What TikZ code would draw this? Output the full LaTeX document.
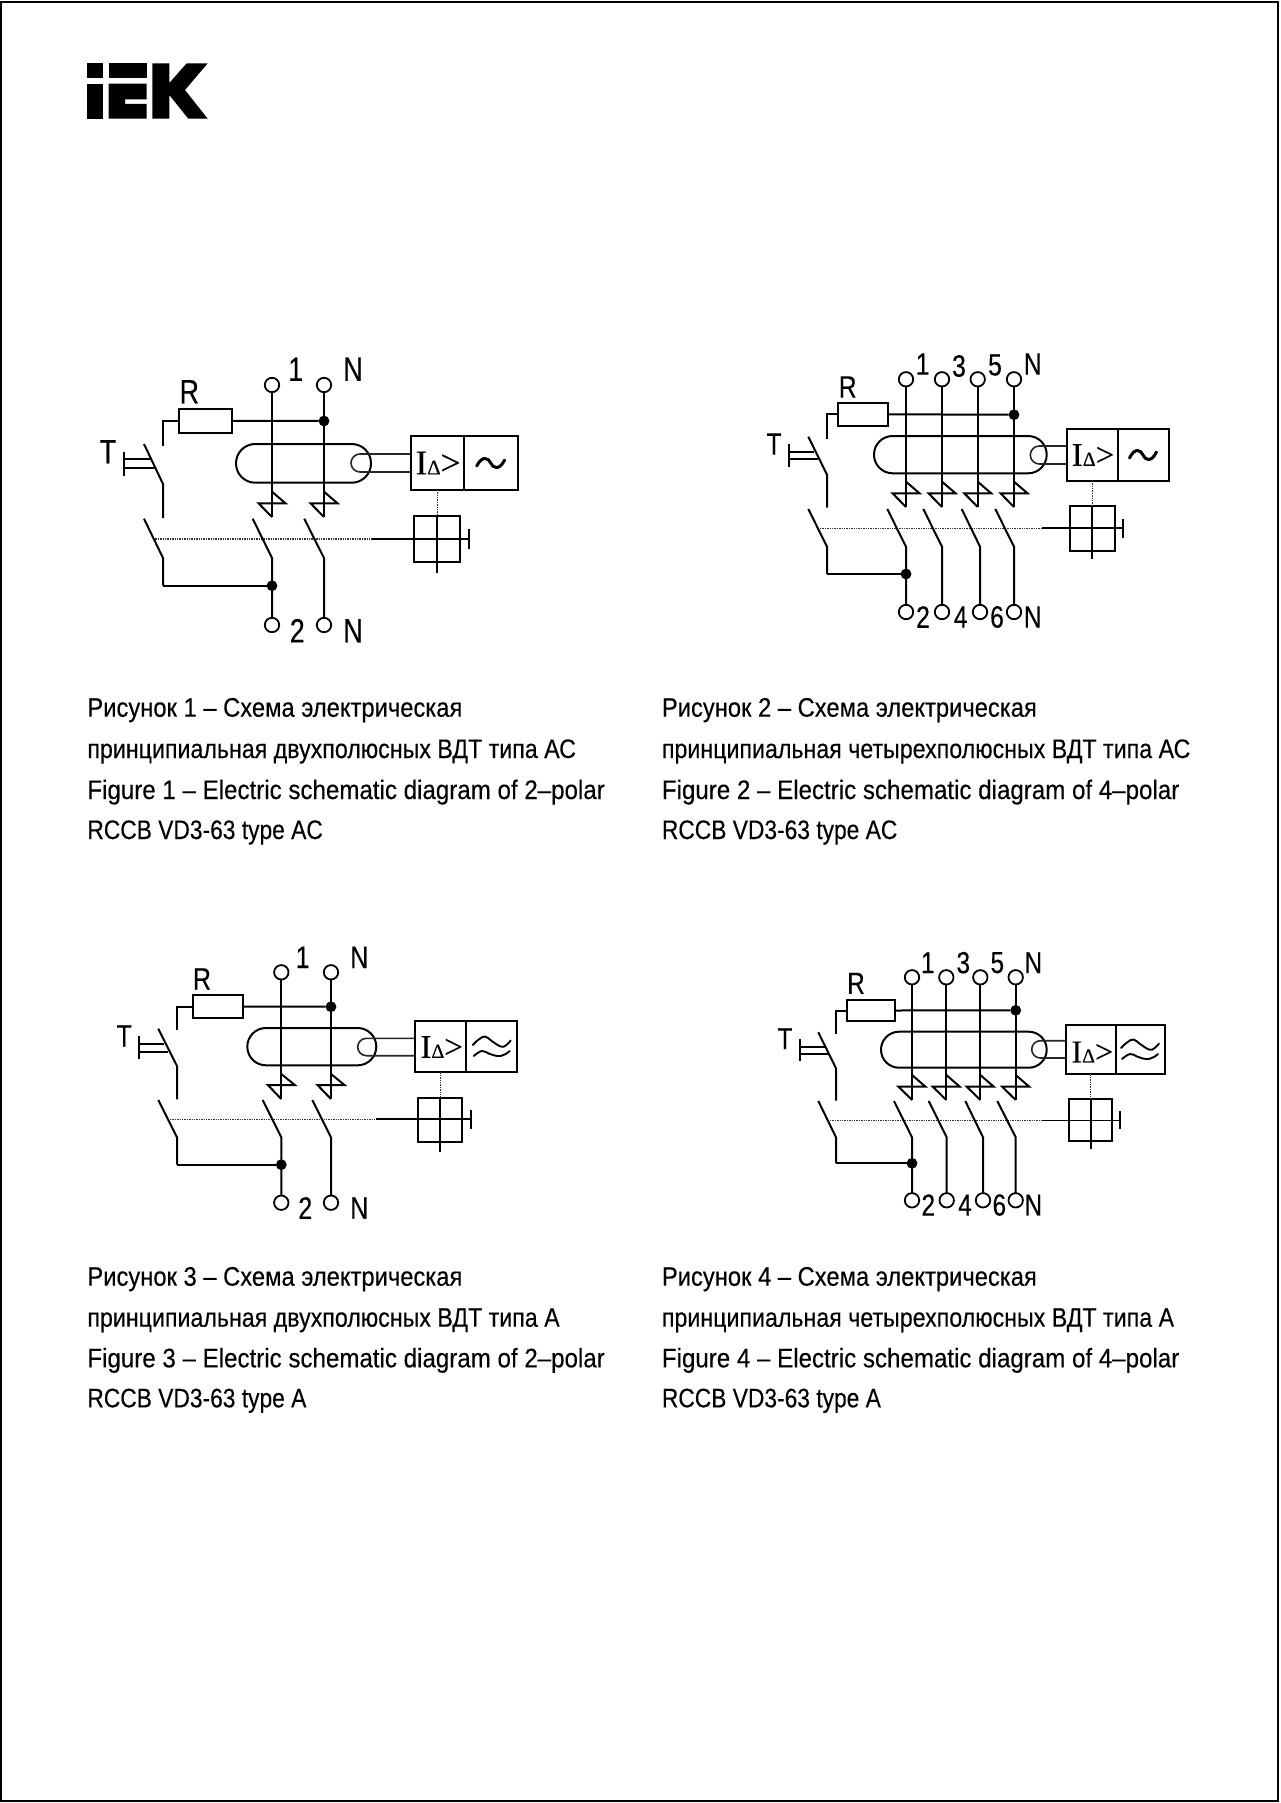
\documentclass[tikz,border=0pt]{standalone}
\usepackage{fontspec}
\setmainfont{Liberation Sans}
\newfontfamily\lblfont[FakeStretch=0.8,FakeBold=0.25]{Liberation Sans}
\newfontfamily\capfont[FakeStretch=0.9,FakeBold=0.25]{Liberation Sans}
\newfontfamily\capfa[FakeStretch=0.886,FakeBold=0.25]{Liberation Sans}
\newfontfamily\capfb[FakeStretch=0.866,FakeBold=0.25]{Liberation Sans}
\newfontfamily\capfd[FakeStretch=0.85,FakeBold=0.25]{Liberation Sans}
\newfontfamily\serI[FakeBold=0.2]{Liberation Serif}
\tikzset{
  x=0.5pt,y=-0.5pt,
  wire/.style={line width=1pt,line cap=butt,line join=miter,black},
  thinw/.style={line width=0.8pt,black!85},
  dotln/.style={line width=0.6pt,black!80,dash pattern=on 0.7pt off 0.5pt},
  term/.style={circle,draw,line width=0.9pt,minimum size=7.2pt,inner sep=0pt,outer sep=0pt},
  junc/.style={circle,fill=black,minimum size=5.4pt,inner sep=0pt,outer sep=0pt},
  boxr/.style={rectangle,draw,line width=1.1pt,inner sep=0pt,outer sep=0pt,anchor=north west},
  lbl/.style={inner sep=0pt,font=\lblfont\fontsize{\lSize}{\lSize}\selectfont},
  captxt/.style={inner sep=0pt,anchor=base west,font=\capfont\fontsize{13.4pt}{14pt}\selectfont},
  capa/.style={captxt,font=\capfa\fontsize{13.4pt}{14pt}\selectfont},
  capb/.style={captxt,font=\capfb\fontsize{13.4pt}{14pt}\selectfont},
  capd/.style={captxt,font=\capfd\fontsize{13.4pt}{14pt}\selectfont},
}
\newcommand{\PoleAt}[4]{%
  \node[term] (#1t) at (#2,\yTop) {};
  \node[term] (#1b) at (#3,\yBot) {};
  \coordinate (#1la) at (#2,\latA);
  \coordinate (#1lr) at (#2+13.5,\latB);
  \coordinate (#1ll) at (#2-13.5,\latB);
  \coordinate (#1lc) at (#2,\latC);
  \coordinate (#1cs) at (#4,\yCa);
  \coordinate (#1ck) at (#3,\yCb);
  \draw[wire] (#1t.south) -- (#1lc);
  \draw[wire,line join=miter] (#1la) -- (#1lr) -- (#1ll) -- (#1lc);
  \draw[wire] (#1cs) -- (#1ck) -- (#1b.north);
}
\newcommand{\CommonParts}[1]{%
  % resistor and its wire
  \node[boxr,minimum width={(\rR-\rL)*0.5pt},minimum height={(\rB-\rT)*0.5pt}] (#1res) at (\rL,\rT) {};
  \coordinate (#1rw) at (\xW,\wB);
  \draw[wire] (#1rw) |- (#1res.west);
  % sensing loop
  \draw[wire,rounded corners=\loopR] (\lL,\lT) rectangle (\lR,\lB);
  % relay box
  \node[boxr,minimum width={(\bD-\bL)*0.5pt},minimum height={(\bB-\bT)*0.5pt}] (#1bxa) at (\bL,\bT) {};
  \node[boxr,minimum width={(\bR-\bD)*0.5pt},minimum height={(\bB-\bT)*0.5pt}] (#1bxb) at (\bD,\bT) {};
  % secondary coil
  \pgfmathsetmacro{\lm}{(\sA+\sB)/2}
  \pgfmathsetmacro{\lrad}{(\sB-\sA)/2}
  \coordinate (#1sa) at (\bL,\sA);
  \coordinate (#1sb) at (\bL,\sB);
  \draw[thinw] (#1sa) -- (\sX+\lrad,\sA)
     .. controls (\sX+0.45*\lrad,\sA) and (\sX,\lm-0.55*\lrad) .. (\sX,\lm)
     .. controls (\sX,\lm+0.55*\lrad) and (\sX+0.45*\lrad,\sB) .. (\sX+\lrad,\sB) -- (#1sb);
  % trip block
  \node[boxr,minimum width={(\qR-\qL)*0.5pt},minimum height={(\qB-\qT)*0.5pt}] (#1sq) at (\qL,\qT) {};
  \coordinate (#1vb) at (#1sq.north |- 0,\vB);
  \coordinate (#1hl) at (\dL,\yH);
  \coordinate (#1hm) at (\dR,\yH);
  \coordinate (#1he) at (\hR,\yH);
  \coordinate (#1ht) at (\hR,\tT);
  \coordinate (#1hb) at (\hR,\tB);
  \draw[dotln] (#1sq.north |- #1bxa.south) -- (#1sq.north);
  \draw[line width=0.85pt] (#1sq.north) -- (#1vb);
  \draw[dotln] (#1hl) -- (#1hm);
  \draw[line width=0.85pt] (#1hm) -- (#1he);
  \draw[line width=1pt] (#1ht) -- (#1hb);
  % test button
  \coordinate (#1ka) at (\kX,\kT);
  \coordinate (#1kb) at (\xW,\kM);
  \coordinate (#1kc) at (\xW,\kB);
  \draw[wire] (#1ka) -- (#1kb) -- (#1kc);
  \draw[wire] (\pX,\pT) -- (\pX,\pB);
  \draw[wire,line width=0.85pt] (\pX,\hA) -- (\hAx,\hA);
  \draw[wire,line width=0.85pt] (\pX,\hB) -- (\hBx,\hB);
  % lower left contact
  \coordinate (#1ma) at (\kX,\yCa);
  \coordinate (#1mb) at (\xW,\yCb);
  \coordinate (#1mc) at (\xW,\yLow);
  \draw[wire] (#1ma) -- (#1mb) -- (#1mc);
  % text in box
  \node[inner sep=0pt] (#1ilab) at (\iX,\iY) {\serI\fontsize{\iSize}{\iSize}\selectfont I{\fontsize{\dSize}{\dSize}\selectfont Δ}>};
}
\newcommand{\TildeAt}[3]{%
  \begin{scope}[shift={(#1,#2)}]
    \draw[line width=1.5pt,line cap=round] (-#3,3)
      .. controls (-0.6*#3,-8) and (-0.15*#3,-5) .. (0,0)
      .. controls (0.15*#3,5) and (0.6*#3,8) .. (#3,-3);
  \end{scope}
}
\newcommand{\DoubleWaveAt}[2]{%
  \begin{scope}[shift={(#1,#2)}]
    \draw[line width=0.95pt,line cap=round] plot[smooth,tension=0.7] coordinates {(-19,-2) (-13,-7.5) (-6.5,-10.5) (0,-6) (9,-0.5) (14,-1.5) (19,-6.5)};
    \draw[line width=0.95pt,line cap=round] plot[smooth,tension=0.7] coordinates {(-18,9) (-10,4) (-3,6.5) (3,8.5) (9,9) (14,7) (18,4)};
  \end{scope}
}
\begin{document}
\begin{tikzpicture}
\useasboundingbox (0,0) rectangle (1280,1803);
\fill[white] (0,0) rectangle (1280,1803);
\draw[line width=1.25pt] (1.2,2) rectangle (1278,1801);

% logo
\fill (87.3,63.3) rectangle (103.3,77.7);
\fill (87.3,83.7) rectangle (103.3,118.7);
\fill (108.7,63.3) rectangle (146.7,77.7);
\fill (108.7,83.7) -- (146.7,83.7) -- (146.7,99.3) -- (125,99.3) -- (125,104) -- (146.7,104) -- (146.7,118.7) -- (108.7,118.7) -- cycle;
\fill (152.3,63.3) -- (169.3,63.3) -- (169.3,83) -- (186.7,63.3) -- (207.7,63.3) -- (185,90) -- (207.7,118.7) -- (188.3,118.7) -- (169.3,95) -- (169.3,118.7) -- (152.3,118.7) -- cycle;

% ---------- Diagram 1
\begin{scope}
\def\lSize{16.8pt}\def\iSize{17.5pt}\def\dSize{10.5pt}
\def\yTop{385}\def\yBot{625}\def\latA{491.7}\def\latB{503.3}\def\latC{517}
\def\yCa{518.7}\def\yCb{558}\def\yLow{585.7}
\def\rL{179.3}\def\rR{231.7}\def\rT{409}\def\rB{432.7}
\def\xW{163}\def\wB{446}
\def\lL{236}\def\lR{371}\def\lT{444}\def\lB{482.7}\def\loopR{9.6pt}
\def\bL{410.7}\def\bR{518}\def\bD{464}\def\bT{436.3}\def\bB{489.7}
\def\sX{351}\def\sA{454}\def\sB{472}
\def\qL{414.3}\def\qR{460.3}\def\qT{516}\def\qB{561.7}\def\vB{572.7}
\def\yH{539}\def\dL{153}\def\dR{371.7}\def\hR{469.3}\def\tT{529}\def\tB{549}
\def\kX{144}\def\kT{444}\def\kM{484}\def\kB{518}
\def\pX{124}\def\pT{451.7}\def\pB{476}\def\hA{459}\def\hB{467.7}\def\hAx{152}\def\hBx{155.5}
\def\iX{438}\def\iY{463}
\CommonParts{a}
\PoleAt{ap}{272}{272}{252.7}
\PoleAt{aq}{324}{324}{304.3}
\node[junc] (aj1) at (324,421) {};
\node[junc] (aj2) at (272,585.7) {};
\draw[wire] (ares.east) -- (aj1);
\draw[wire] (amc) -- (aj2);
\TildeAt{490.7}{463}{14}
\node[lbl] (al1) at (295.7,369.3) {1};
\node[lbl] (al2) at (353,369.3) {N};
\node[lbl] (al3) at (297.3,630.7) {2};
\node[lbl] (al4) at (353,630.7) {N};
\node[lbl] (alr) at (189.3,391.7) {R};
\node[lbl] (alt) at (108,451.7) {T};
\end{scope}

% ---------- Diagram 2
\begin{scope}
\def\lSize{15.4pt}\def\iSize{16.5pt}\def\dSize{10pt}
\def\yTop{379.3}\def\yBot{612}\def\latA{481.7}\def\latB{493.3}\def\latC{507}
\def\yCa{509}\def\yCb{546.7}\def\yLow{574}
\def\rL{838.3}\def\rR{888.3}\def\rT{403}\def\rB{425.7}
\def\xW{827}\def\wB{438.7}
\def\lL{874}\def\lR{1046.7}\def\lT{436}\def\lB{473.3}\def\loopR{9.3pt}
\def\bL{1066.7}\def\bR{1169.3}\def\bD{1118.3}\def\bT{429}\def\bB{480.7}
\def\sX{1030.3}\def\sA{446}\def\sB{464}
\def\qL{1069.7}\def\qR{1114.7}\def\qT{505.7}\def\qB{550.7}\def\vB{559}
\def\yH{528.3}\def\dL{820}\def\dR{1041.7}\def\hR{1123}\def\tT{519}\def\tB{537.7}
\def\kX{808.3}\def\kT{436.7}\def\kM{474.7}\def\kB{507.7}
\def\pX{789.3}\def\pT{443.7}\def\pB{467}\def\hA{451.7}\def\hB{459.3}\def\hAx{814}\def\hBx{818}
\def\iX{1093}\def\iY{455}
\CommonParts{b}
\PoleAt{bp}{906}{906}{887.3}
\PoleAt{bq}{942}{942}{923.3}
\PoleAt{br}{977.7}{980}{961.7}
\PoleAt{bs}{1014}{1014}{995.3}
\node[junc] (bj1) at (1014,414.7) {};
\node[junc] (bj2) at (906,574) {};
\draw[wire] (bres.east) -- (bj1);
\draw[wire] (bmc) -- (bj2);
\TildeAt{1143}{455}{13.5}
\node[lbl] (bl1) at (922.7,364) {1};
\node[lbl] (bl2) at (959,366) {3};
\node[lbl] (bl3) at (995,365) {5};
\node[lbl] (bl4) at (1032.7,364) {N};
\node[lbl] (bl5) at (923,617) {2};
\node[lbl] (bl6) at (960.7,617) {4};
\node[lbl] (bl7) at (997,617) {6};
\node[lbl] (bl8) at (1032.7,617) {N};
\node[lbl] (blr) at (847.7,387) {R};
\node[lbl] (blt) at (774,444) {T};
\end{scope}

% ---------- Diagram 3
\begin{scope}
\def\lSize{15.6pt}\def\iSize{16.5pt}\def\dSize{10pt}
\def\yTop{972.3}\def\yBot{1202.7}\def\latA{1074}\def\latB{1085}\def\latC{1099}
\def\yCa{1100}\def\yCb{1137.3}\def\yLow{1164.7}
\def\rL{192.7}\def\rR{242.7}\def\rT{995.3}\def\rB{1017.7}
\def\xW{177}\def\wB{1030.3}
\def\lL{247.3}\def\lR{376.3}\def\lT{1028}\def\lB{1065.3}\def\loopR{9.3pt}
\def\bL{414.7}\def\bR{517}\def\bD{465.7}\def\bT{1021.3}\def\bB{1072.3}
\def\sX{357.7}\def\sA{1038.3}\def\sB{1055.7}
\def\qL{418.3}\def\qR{462.3}\def\qT{1097.7}\def\qB{1141.7}\def\vB{1151.7}
\def\yH{1119.3}\def\dL{170}\def\dR{376}\def\hR{470.7}\def\tT{1110}\def\tB{1129}
\def\kX{158.3}\def\kT{1028.7}\def\kM{1066}\def\kB{1099.3}
\def\pX{139.3}\def\pT{1036}\def\pB{1059}\def\hA{1044}\def\hB{1052}\def\hAx{164}\def\hBx{168}
\def\iX{441.7}\def\iY{1047}
\CommonParts{c}
\PoleAt{cp}{281.3}{281.3}{262.7}
\PoleAt{cq}{331}{331}{312.3}
\node[junc] (cj1) at (331,1006.7) {};
\node[junc] (cj2) at (281.3,1164.7) {};
\draw[wire] (cres.east) -- (cj1);
\draw[wire] (cmc) -- (cj2);
\DoubleWaveAt{491.7}{1047}
\node[lbl] (cl1) at (302.7,957.3) {1};
\node[lbl] (cl2) at (359.3,957.3) {N};
\node[lbl] (cl3) at (305.3,1208) {2};
\node[lbl] (cl4) at (359.3,1208) {N};
\node[lbl] (clr) at (202,979) {R};
\node[lbl] (clt) at (124.3,1036) {T};
\end{scope}

% ---------- Diagram 4
\begin{scope}
\def\lSize{15.2pt}\def\iSize{16pt}\def\dSize{10pt}
\def\yTop{977.3}\def\yBot{1200.3}\def\latA{1075}\def\latB{1086.7}\def\latC{1100}
\def\yCa{1101}\def\yCb{1137.3}\def\yLow{1163.3}
\def\rL{847}\def\rR{895}\def\rT{999.7}\def\rB{1021.3}
\def\xW{836}\def\wB{1033.7}
\def\lL{881}\def\lR{1046.7}\def\lT{1031.7}\def\lB{1067.7}\def\loopR{9pt}
\def\bL{1066}\def\bR{1165}\def\bD{1115.7}\def\bT{1025}\def\bB{1074.3}
\def\sX{1031.7}\def\sA{1040.7}\def\sB{1058}
\def\qL{1069.3}\def\qR{1112}\def\qT{1099}\def\qB{1141.3}\def\vB{1149.3}
\def\yH{1120.4}\def\dL{830}\def\dR{1043.3}\def\hR{1120.3}\def\tT{1111}\def\tB{1129}
\def\kX{818.3}\def\kT{1032.3}\def\kM{1068.3}\def\kB{1100.7}
\def\pX{800}\def\pT{1039}\def\pB{1061}\def\hA{1046.7}\def\hB{1054.3}\def\hAx{825}\def\hBx{829}
\def\iX{1092.3}\def\iY{1052}
\CommonParts{d}
\PoleAt{dp}{912}{912}{894}
\PoleAt{dq}{946.3}{946.7}{928.7}
\PoleAt{dr}{980.3}{983}{965.3}
\PoleAt{ds}{1015.7}{1015.7}{997.3}
\node[junc] (dj1) at (1015.7,1010.3) {};
\node[junc] (dj2) at (912,1163.3) {};
\draw[wire] (dres.east) -- (dj1);
\draw[wire] (dmc) -- (dj2);
\DoubleWaveAt{1140}{1050}
\node[lbl] (dl1) at (927.7,962.7) {1};
\node[lbl] (dl2) at (963.3,962.7) {3};
\node[lbl] (dl3) at (997.3,962.7) {5};
\node[lbl] (dl4) at (1033.3,962.7) {N};
\node[lbl] (dl5) at (928.3,1205) {2};
\node[lbl] (dl6) at (965,1205) {4};
\node[lbl] (dl7) at (999.3,1205) {6};
\node[lbl] (dl8) at (1033.3,1205) {N};
\node[lbl] (dlr) at (856,983.3) {R};
\node[lbl] (dlt) at (785,1038.7) {T};
\end{scope}

% captions
\node[capa] (t1a) at (87,716.7) {Рисунок 1 – Схема электрическая};
\node[capb] (t1b) at (87,758) {принципиальная двухполюсных ВДТ типа АС};
\node[captxt] (t1c) at (87,799) {Figure 1 – Electric schematic diagram of 2–polar};
\node[capd] (t1d) at (87,839) {RCCB VD3-63 type AC};
\node[capa] (t2a) at (661.5,716.7) {Рисунок 2 – Схема электрическая};
\node[capb] (t2b) at (661.5,758) {принципиальная четырехполюсных ВДТ типа АС};
\node[captxt] (t2c) at (661.5,799) {Figure 2 – Electric schematic diagram of 4–polar};
\node[capd] (t2d) at (661.5,839) {RCCB VD3-63 type AC};
\node[capa] (t3a) at (87,1285.7) {Рисунок 3 – Схема электрическая};
\node[capb] (t3b) at (87,1326.7) {принципиальная двухполюсных ВДТ типа А};
\node[captxt] (t3c) at (87,1367.3) {Figure 3 – Electric schematic diagram of 2–polar};
\node[capd] (t3d) at (87,1407.3) {RCCB VD3-63 type A};
\node[capa] (t4a) at (661.5,1285.7) {Рисунок 4 – Схема электрическая};
\node[capb] (t4b) at (661.5,1326.7) {принципиальная четырехполюсных ВДТ типа А};
\node[captxt] (t4c) at (661.5,1367.3) {Figure 4 – Electric schematic diagram of 4–polar};
\node[capd] (t4d) at (661.5,1407.3) {RCCB VD3-63 type A};
\end{tikzpicture}
\end{document}
